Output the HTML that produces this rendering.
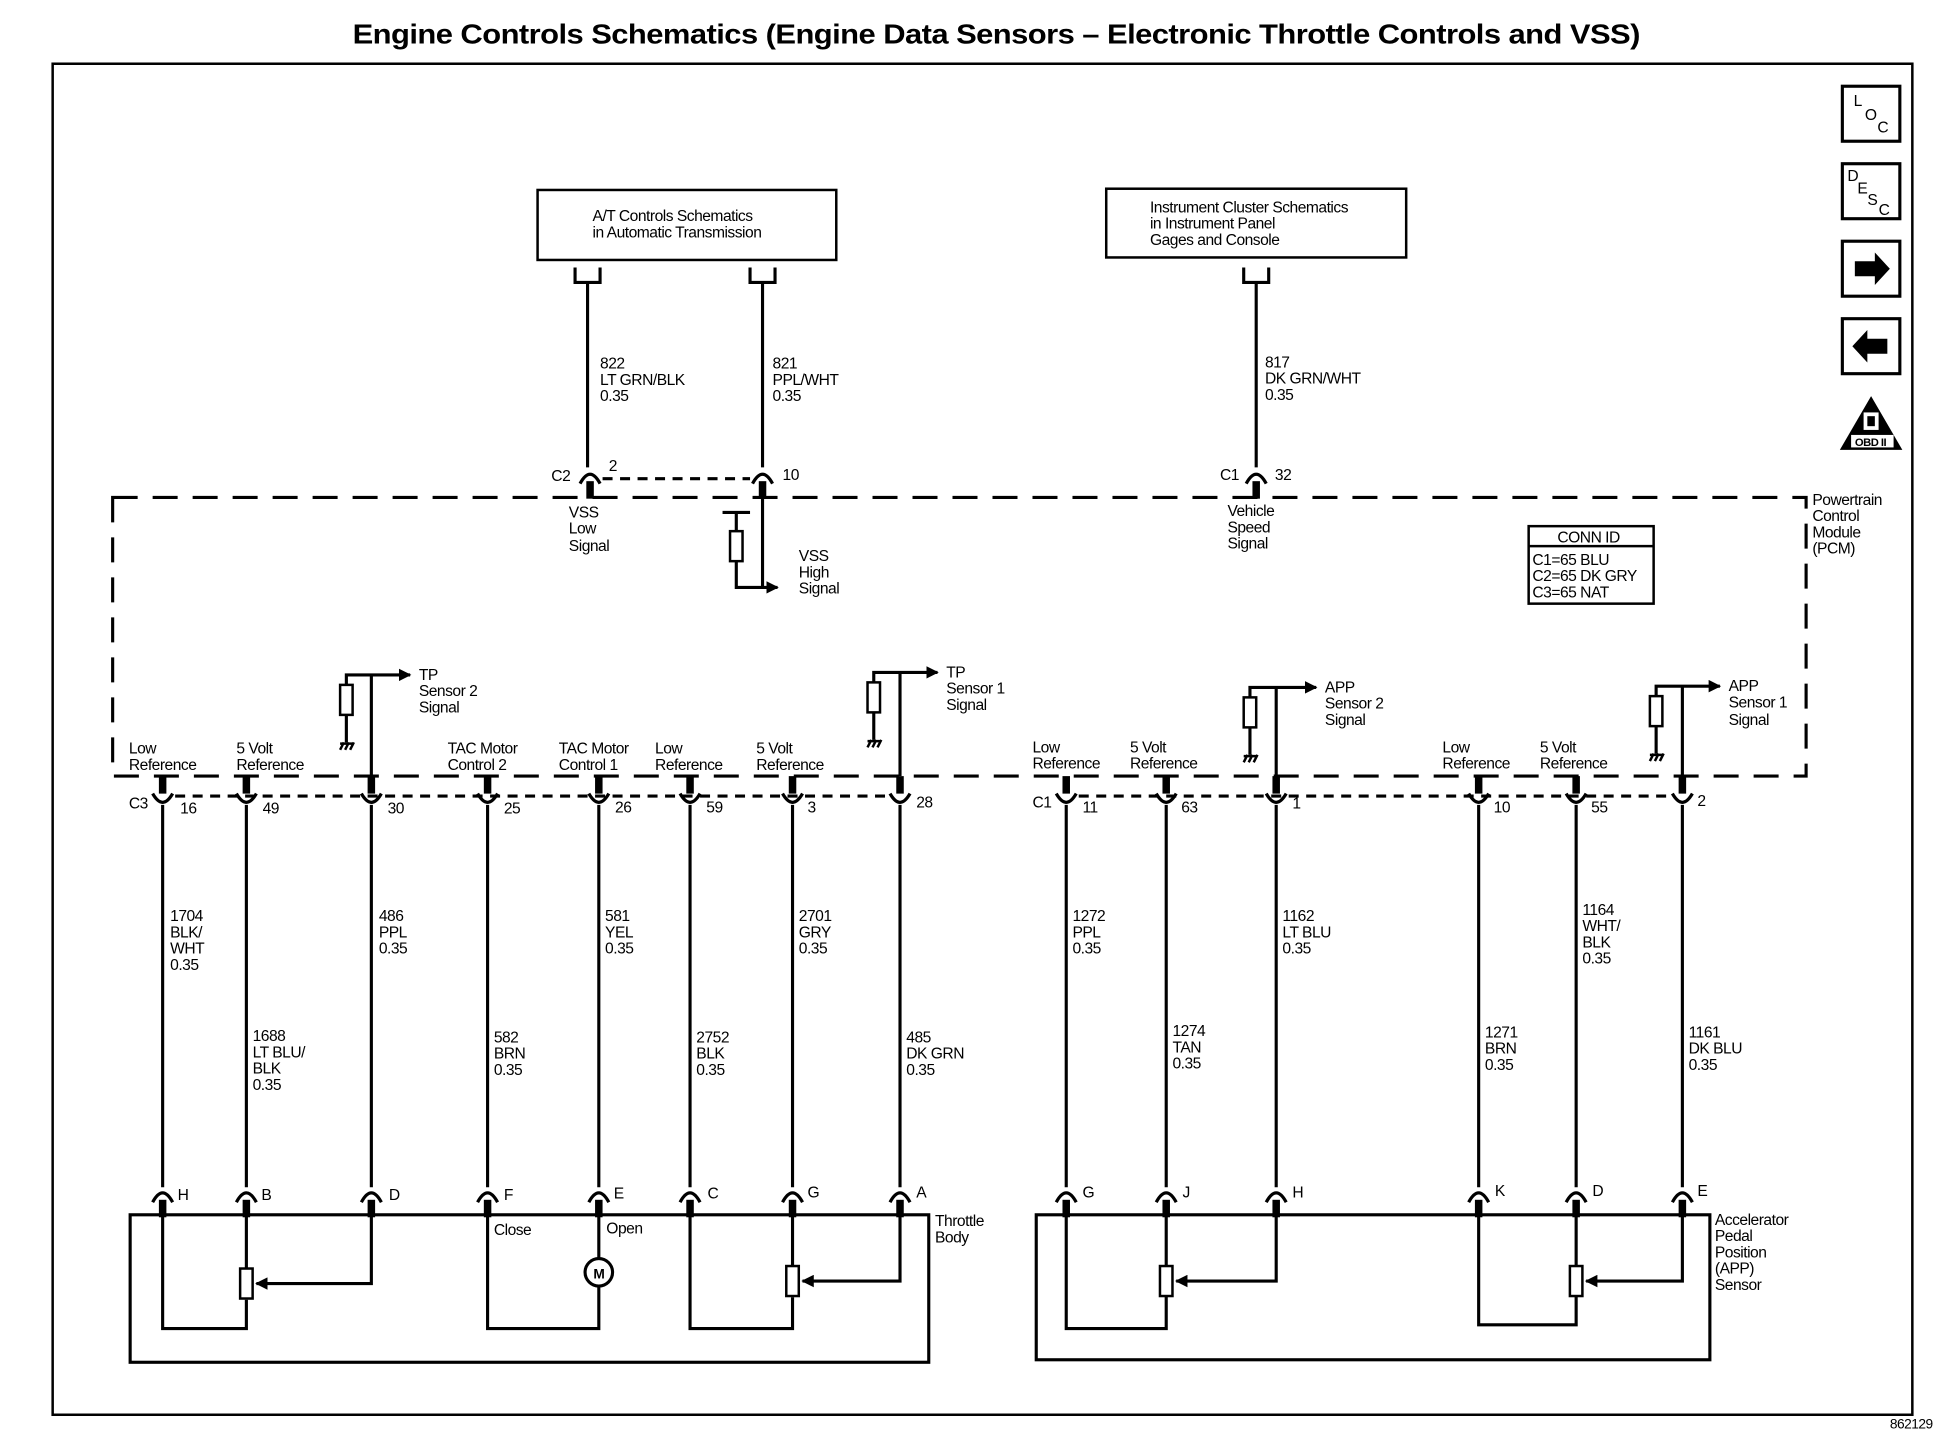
<!DOCTYPE html>
<html><head><meta charset="utf-8"><style>
html,body{margin:0;padding:0;background:#fff;}
svg{display:block;}
text{font-family:"Liberation Sans",sans-serif;font-size:12.5px;fill:#000;letter-spacing:-0.4px;}
.b{font-weight:bold;}
</style></head><body>
<svg width="1960" height="1456" viewBox="0 0 1568 1165" xmlns="http://www.w3.org/2000/svg">
<defs>
<g id="cup"><path d="M-8,-4 Q0,10 8,-4" fill="none" stroke="#000" stroke-width="2.6"/><rect x="-3" y="-18" width="6" height="14" fill="#000"/></g>
<g id="arch"><path d="M-8,5 Q0,-10 8,5" fill="none" stroke="#000" stroke-width="2.6"/><rect x="-3" y="3" width="6" height="14" fill="#000"/></g>
<g id="res"><rect x="-5" y="0" width="10" height="24" fill="#fff" stroke="#000" stroke-width="2"/></g>
<g id="gnd"><path d="M-5,6 L-2,0 M-1,6 L2,0 M3,6 L6,0 M-5,1 H6" stroke="#000" stroke-width="2" fill="none"/></g>
<marker id="ar" markerWidth="10" markerHeight="10" refX="9" refY="5" orient="auto" markerUnits="userSpaceOnUse"><path d="M0,0 L10,5 L0,10z" fill="#000"/></marker>
</defs>
<text x="797" y="35" text-anchor="middle" class="b" style="font-size:22px" textLength="1030" lengthAdjust="spacingAndGlyphs">Engine Controls Schematics (Engine Data Sensors – Electronic Throttle Controls and VSS)</text>
<rect x="42" y="51" width="1488" height="1081" fill="none" stroke="#000" stroke-width="2"/>
<text x="1512" y="1143" style="font-size:11px">862129</text>

<!-- icons -->
<g fill="none" stroke="#000" stroke-width="2.5">
<rect x="1474" y="69" width="46" height="44"/><rect x="1474" y="131" width="46" height="44"/>
<rect x="1474" y="193" width="46" height="44"/><rect x="1474" y="255" width="46" height="44"/>
</g>
<text x="1483" y="85">L</text><text x="1492" y="96">O</text><text x="1502" y="106">C</text>
<text x="1478" y="145">D</text><text x="1486" y="155">E</text><text x="1494" y="164">S</text><text x="1503" y="172">C</text>
<path d="M1484,209 H1500 V202 L1512,215 L1500,228 V221 H1484z" fill="#000"/>
<path d="M1510,271 H1494 V264 L1482,277 L1494,290 V283 H1510z" fill="#000"/>
<path d="M1497,317 L1522,360 L1472,360z" fill="#000"/>
<rect x="1491" y="330" width="12" height="14" fill="#fff"/><rect x="1494" y="333" width="6" height="8" fill="#000"/>
<rect x="1481" y="348" width="34" height="10" fill="#fff"/>
<text x="1484" y="357" style="font-size:9px" class="b">OBD II</text>

<!-- top boxes -->
<rect x="430" y="152" width="239" height="56" fill="none" stroke="#000" stroke-width="2"/>
<text x="474" y="177">A/T Controls Schematics</text><text x="474" y="190">in Automatic Transmission</text>
<rect x="885" y="151" width="240" height="55" fill="none" stroke="#000" stroke-width="2"/>
<text x="920" y="170">Instrument Cluster Schematics</text><text x="920" y="183">in Instrument Panel</text><text x="920" y="196">Gages and Console</text>
<g fill="none" stroke="#000" stroke-width="2.5">
<path d="M460,214 V226 H480 V214 M470,226 V374"/>
<path d="M600,214 V226 H620 V214 M610,226 V374"/>
<path d="M995,214 V226 H1015 V214 M1005,226 V374"/>
</g>
<text x="480" y="295">822</text><text x="480" y="308">LT GRN/BLK</text><text x="480" y="321">0.35</text>
<text x="618" y="295">821</text><text x="618" y="308">PPL/WHT</text><text x="618" y="321">0.35</text>
<text x="1012" y="294">817</text><text x="1012" y="307">DK GRN/WHT</text><text x="1012" y="320">0.35</text>
<use href="#arch" x="472" y="382"/><use href="#arch" x="610" y="382"/><use href="#arch" x="1005" y="382"/>
<line x1="482" y1="383" x2="600" y2="383" stroke="#000" stroke-width="2.5" stroke-dasharray="8,6"/>
<text x="441" y="385">C2</text><text x="487" y="377">2</text><text x="626" y="384">10</text>
<text x="976" y="384">C1</text><text x="1020" y="384">32</text>

<!-- PCM -->
<rect x="90" y="398" width="1355" height="223" fill="none" stroke="#000" stroke-width="2.5" stroke-dasharray="20,12"/>
<text x="455" y="414">VSS</text><text x="455" y="427">Low</text><text x="455" y="441">Signal</text>
<g stroke="#000" stroke-width="2.5" fill="none">
<path d="M610,398 V470"/><path d="M578,410 H600 M589,410 V425 M589,449 V470 H622" marker-end="url(#ar)"/>
</g>
<use href="#res" x="589" y="425"/>
<text x="639" y="449">VSS</text><text x="639" y="462">High</text><text x="639" y="475">Signal</text>
<text x="982" y="413">Vehicle</text><text x="982" y="426">Speed</text><text x="982" y="439">Signal</text>
<rect x="1223" y="421" width="100" height="62" fill="none" stroke="#000" stroke-width="2"/>
<line x1="1223" y1="437" x2="1323" y2="437" stroke="#000" stroke-width="2"/>
<text x="1246" y="434">CONN ID</text><text x="1226" y="452">C1=65 BLU</text><text x="1226" y="465">C2=65 DK GRY</text><text x="1226" y="478">C3=65 NAT</text>
<text x="1450" y="404">Powertrain</text><text x="1450" y="417">Control</text><text x="1450" y="430">Module</text><text x="1450" y="443">(PCM)</text>

<!-- pin labels -->
<text x="103" y="603">Low</text><text x="103" y="616">Reference</text>
<text x="189" y="603">5 Volt</text><text x="189" y="616">Reference</text>
<text x="358" y="603">TAC Motor</text><text x="358" y="616">Control 2</text>
<text x="447" y="603">TAC Motor</text><text x="447" y="616">Control 1</text>
<text x="524" y="603">Low</text><text x="524" y="616">Reference</text>
<text x="605" y="603">5 Volt</text><text x="605" y="616">Reference</text>
<text x="826" y="602">Low</text><text x="826" y="615">Reference</text>
<text x="904" y="602">5 Volt</text><text x="904" y="615">Reference</text>
<text x="1154" y="602">Low</text><text x="1154" y="615">Reference</text>
<text x="1232" y="602">5 Volt</text><text x="1232" y="615">Reference</text>

<!-- sensor signal taps -->
<g stroke="#000" stroke-width="2.5" fill="none">
<path d="M297,540 V621"/><path d="M277,548 V540 H328" marker-end="url(#ar)"/><path d="M277,572 V594"/>
<path d="M720,538 V621"/><path d="M699,546 V538 H750" marker-end="url(#ar)"/><path d="M699,570 V592"/>
<path d="M1021,550 V621"/><path d="M1000,558 V550 H1053" marker-end="url(#ar)"/><path d="M1000,582 V604"/>
<path d="M1346,549 V621"/><path d="M1325,557 V549 H1376" marker-end="url(#ar)"/><path d="M1325,581 V603"/>
</g>
<use href="#res" x="277" y="548"/><use href="#gnd" x="277" y="594"/>
<use href="#res" x="699" y="546"/><use href="#gnd" x="699" y="592"/>
<use href="#res" x="1000" y="558"/><use href="#gnd" x="1000" y="604"/>
<use href="#res" x="1325" y="557"/><use href="#gnd" x="1325" y="603"/>
<text x="335" y="544">TP</text><text x="335" y="557">Sensor 2</text><text x="335" y="570">Signal</text>
<text x="757" y="542">TP</text><text x="757" y="555">Sensor 1</text><text x="757" y="568">Signal</text>
<text x="1060" y="554">APP</text><text x="1060" y="567">Sensor 2</text><text x="1060" y="580">Signal</text>
<text x="1383" y="553">APP</text><text x="1383" y="566">Sensor 1</text><text x="1383" y="580">Signal</text>

<!-- PCM connectors C3/C1 -->
<line x1="140" y1="637" x2="712" y2="637" stroke="#000" stroke-width="2.5" stroke-dasharray="8,6"/>
<line x1="863" y1="637" x2="1338" y2="637" stroke="#000" stroke-width="2.5" stroke-dasharray="8,6"/>
<g>
<use href="#cup" x="130" y="639"/><use href="#cup" x="197" y="639"/><use href="#cup" x="297" y="639"/><use href="#cup" x="390" y="639"/>
<use href="#cup" x="479" y="639"/><use href="#cup" x="552" y="639"/><use href="#cup" x="634" y="639"/><use href="#cup" x="720" y="639"/>
<use href="#cup" x="853" y="639"/><use href="#cup" x="933" y="639"/><use href="#cup" x="1021" y="639"/>
<use href="#cup" x="1183" y="639"/><use href="#cup" x="1261" y="639"/><use href="#cup" x="1346" y="639"/>
</g>
<text x="103" y="647">C3</text><text x="144" y="651">16</text><text x="210" y="651">49</text><text x="310" y="651">30</text><text x="403" y="651">25</text>
<text x="492" y="650">26</text><text x="565" y="650">59</text><text x="646" y="650">3</text><text x="733" y="646">28</text>
<text x="826" y="646">C1</text><text x="866" y="650">11</text><text x="945" y="650">63</text><text x="1034" y="647">1</text>
<text x="1195" y="650">10</text><text x="1273" y="650">55</text><text x="1358" y="645">2</text>

<!-- wires -->
<g stroke="#000" stroke-width="2.5">
<line x1="130" y1="644" x2="130" y2="950"/><line x1="197" y1="644" x2="197" y2="950"/><line x1="297" y1="644" x2="297" y2="950"/>
<line x1="390" y1="644" x2="390" y2="950"/><line x1="479" y1="644" x2="479" y2="950"/><line x1="552" y1="644" x2="552" y2="950"/>
<line x1="634" y1="644" x2="634" y2="950"/><line x1="720" y1="644" x2="720" y2="950"/>
<line x1="853" y1="644" x2="853" y2="950"/><line x1="933" y1="644" x2="933" y2="950"/><line x1="1021" y1="644" x2="1021" y2="950"/>
<line x1="1183" y1="644" x2="1183" y2="950"/><line x1="1261" y1="644" x2="1261" y2="950"/><line x1="1346" y1="644" x2="1346" y2="950"/>
</g>
<text x="136" y="737">1704</text><text x="136" y="750">BLK/</text><text x="136" y="763">WHT</text><text x="136" y="776">0.35</text>
<text x="303" y="737">486</text><text x="303" y="750">PPL</text><text x="303" y="763">0.35</text>
<text x="484" y="737">581</text><text x="484" y="750">YEL</text><text x="484" y="763">0.35</text>
<text x="639" y="737">2701</text><text x="639" y="750">GRY</text><text x="639" y="763">0.35</text>
<text x="202" y="833">1688</text><text x="202" y="846">LT BLU/</text><text x="202" y="859">BLK</text><text x="202" y="872">0.35</text>
<text x="395" y="834">582</text><text x="395" y="847">BRN</text><text x="395" y="860">0.35</text>
<text x="557" y="834">2752</text><text x="557" y="847">BLK</text><text x="557" y="860">0.35</text>
<text x="725" y="834">485</text><text x="725" y="847">DK GRN</text><text x="725" y="860">0.35</text>
<text x="858" y="737">1272</text><text x="858" y="750">PPL</text><text x="858" y="763">0.35</text>
<text x="1026" y="737">1162</text><text x="1026" y="750">LT BLU</text><text x="1026" y="763">0.35</text>
<text x="1266" y="732">1164</text><text x="1266" y="745">WHT/</text><text x="1266" y="758">BLK</text><text x="1266" y="771">0.35</text>
<text x="938" y="829">1274</text><text x="938" y="842">TAN</text><text x="938" y="855">0.35</text>
<text x="1188" y="830">1271</text><text x="1188" y="843">BRN</text><text x="1188" y="856">0.35</text>
<text x="1351" y="830">1161</text><text x="1351" y="843">DK BLU</text><text x="1351" y="856">0.35</text>

<!-- component connectors -->
<g>
<use href="#arch" x="130" y="957"/><use href="#arch" x="197" y="957"/><use href="#arch" x="297" y="957"/><use href="#arch" x="390" y="957"/>
<use href="#arch" x="479" y="957"/><use href="#arch" x="552" y="957"/><use href="#arch" x="634" y="957"/><use href="#arch" x="720" y="957"/>
<use href="#arch" x="853" y="957"/><use href="#arch" x="933" y="957"/><use href="#arch" x="1021" y="957"/>
<use href="#arch" x="1183" y="957"/><use href="#arch" x="1261" y="957"/><use href="#arch" x="1346" y="957"/>
</g>
<text x="142" y="960">H</text><text x="209" y="960">B</text><text x="311" y="960">D</text><text x="403" y="960">F</text>
<text x="491" y="959">E</text><text x="566" y="959">C</text><text x="646" y="958">G</text><text x="733" y="958">A</text>
<text x="866" y="958">G</text><text x="946" y="958">J</text><text x="1034" y="958">H</text>
<text x="1196" y="957">K</text><text x="1274" y="957">D</text><text x="1358" y="957">E</text>

<!-- throttle body -->
<rect x="104" y="972" width="639" height="118" fill="none" stroke="#000" stroke-width="2.5"/>
<g stroke="#000" stroke-width="2.5" fill="none">
<path d="M130,972 V1063 H197 V1040 M197,972 V1015"/>
<path d="M297,972 V1027 H205" marker-end="url(#ar)"/>
<path d="M390,972 V1063 H479 V1030 M479,972 V1007"/>
<path d="M552,972 V1063 H634 V1038 M634,972 V1013"/>
<path d="M720,972 V1025 H642" marker-end="url(#ar)"/>
</g>
<use href="#res" x="197" y="1015"/><use href="#res" x="634" y="1013"/>
<circle cx="479" cy="1018" r="11" fill="#fff" stroke="#000" stroke-width="2.5"/>
<text x="479" y="1023" text-anchor="middle" class="b" style="font-size:11px">M</text>
<text x="395" y="988">Close</text><text x="485" y="987">Open</text>
<text x="748" y="981">Throttle</text><text x="748" y="994">Body</text>

<!-- APP sensor -->
<rect x="829" y="972" width="539" height="116" fill="none" stroke="#000" stroke-width="2.5"/>
<g stroke="#000" stroke-width="2.5" fill="none">
<path d="M853,972 V1063 H933 V1037 M933,972 V1013"/>
<path d="M1021,972 V1025 H941" marker-end="url(#ar)"/>
<path d="M1183,972 V1060 H1261 V1037 M1261,972 V1013"/>
<path d="M1346,972 V1025 H1269" marker-end="url(#ar)"/>
</g>
<use href="#res" x="933" y="1013"/><use href="#res" x="1261" y="1013"/>
<text x="1372" y="980">Accelerator</text><text x="1372" y="993">Pedal</text><text x="1372" y="1006">Position</text><text x="1372" y="1019">(APP)</text><text x="1372" y="1032">Sensor</text>
</svg>
</body></html>
